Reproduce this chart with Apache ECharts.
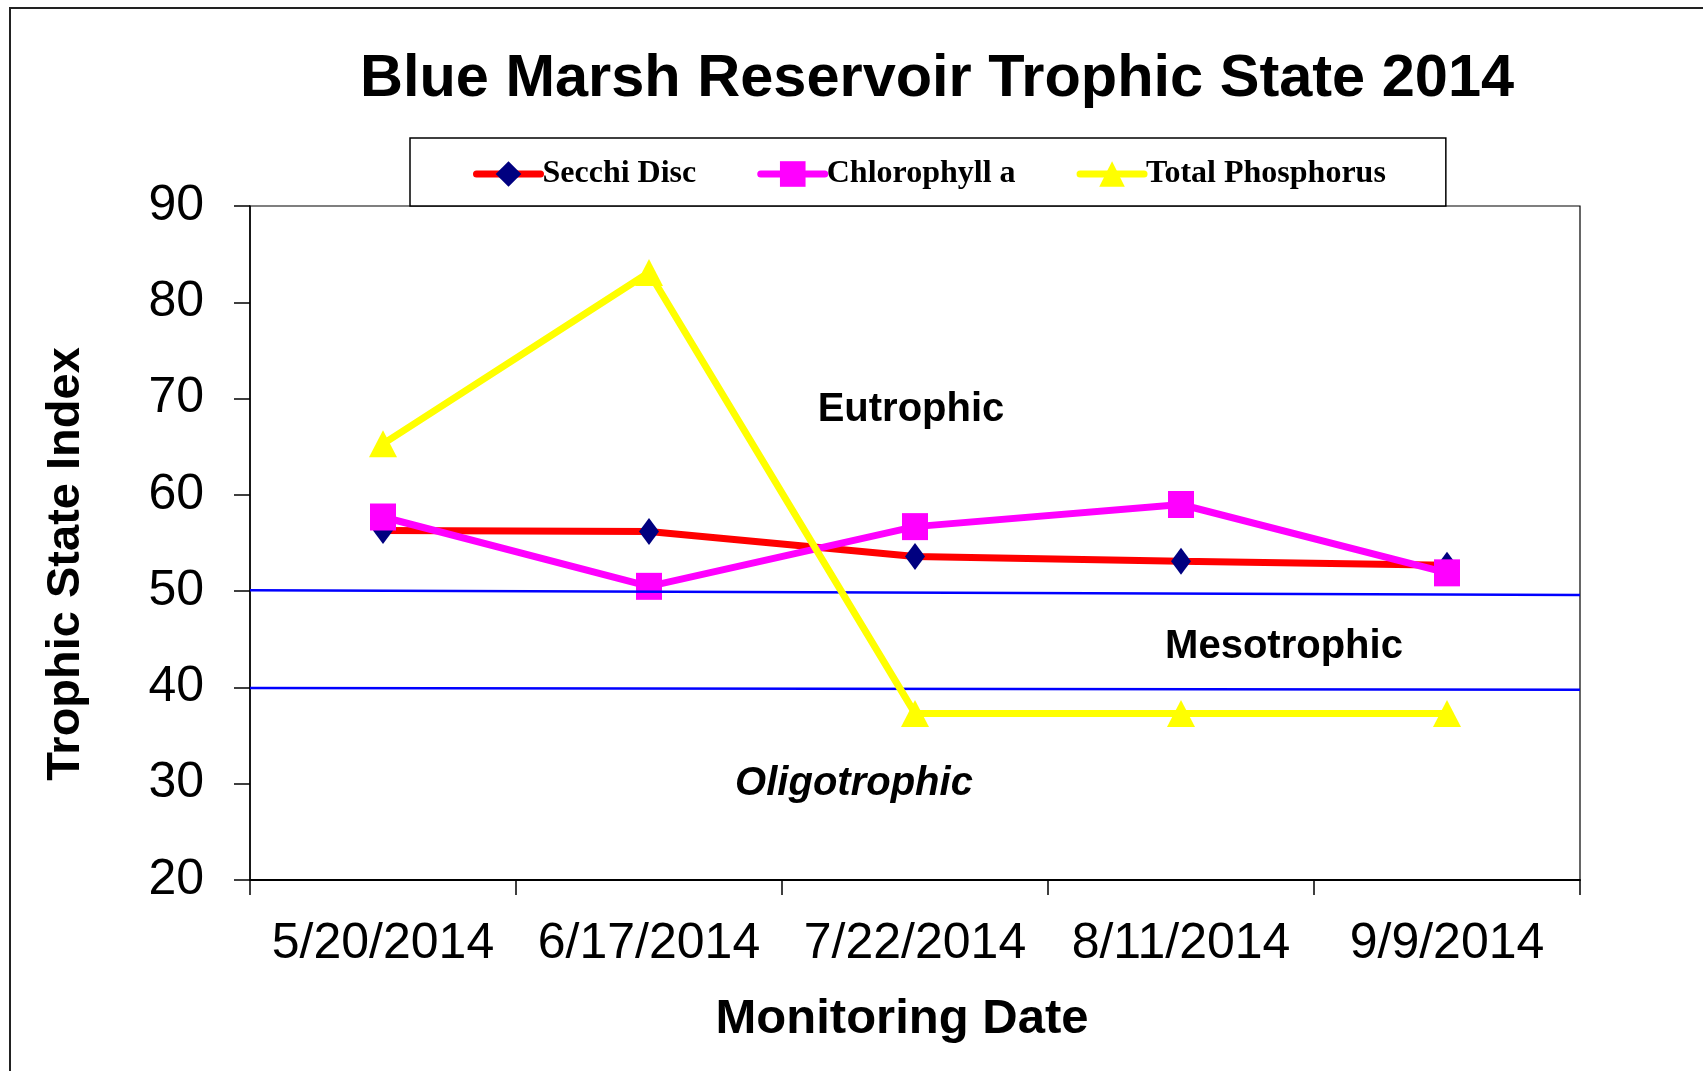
<!DOCTYPE html>
<html>
<head>
<meta charset="utf-8">
<script src="https://cdn.jsdelivr.net/npm/echarts@6/dist/echarts.min.js"></script>
<style>
  html, body { margin: 0; padding: 0; background: #fff; }
  #chart { width: 1703px; height: 1071px; }
</style>
</head>
<body>
<div id="chart"></div>
<script>
// ---- data ----
var dates = ['5/20/2014', '6/17/2014', '7/22/2014', '8/11/2014', '9/9/2014'];
var secchiDisc = [56.3, 56.2, 53.6, 53.1, 52.7];
var chlorophyllA = [57.7, 50.5, 56.7, 59.0, 51.9];
var totalPhosphorus = [65.3, 83.1, 37.3, 37.3, 37.3];
// trophic boundary lines (value at left edge, value at right edge)
var eutrophicBoundary = [50.1, 49.6];
var oligotrophicBoundary = [39.95, 39.75];
var yTicks = [20, 30, 40, 50, 60, 70, 80, 90];
var zoneLabels = ['Eutrophic', 'Mesotrophic', 'Oligotrophic'];

var chart = echarts.init(document.getElementById('chart'), null, { renderer: 'canvas' });

var sans = 'Liberation Sans, Arial, sans-serif';
var serif = 'Liberation Serif, Times New Roman, serif';

var option = {
  backgroundColor: '#ffffff',
  animation: false,
  title: {
    text: 'Blue Marsh Reservoir Trophic State 2014',
    left: 360,
    top: 50,
    padding: 0,
    textStyle: { fontFamily: sans, fontWeight: 'bold', fontSize: 59.5, color: '#000' }
  },
  legend: {
    data: ['Secchi Disc', 'Chlorophyll a', 'Total Phosphorus'],
    left: 410,
    top: 138,
    orient: 'horizontal',
    padding: [20, 60, 16, 63],
    itemGap: 61,
    itemWidth: 64,
    itemHeight: 32,
    borderColor: '#000',
    borderWidth: 1.5,
    backgroundColor: '#fff',
    textStyle: { fontFamily: serif, fontWeight: 'bold', fontSize: 32, color: '#000', padding: [0, 0, 0, -3] },
    lineStyle: { cap: 'round', width: 7 }
  },
  grid: {
    left: 250, right: 123, top: 206, bottom: 191,
    show: true, borderColor: '#000', borderWidth: 1.2, backgroundColor: 'transparent'
  },
  xAxis: [{
    type: 'category',
    data: dates,
    boundaryGap: true,
    name: 'Monitoring Date',
    nameLocation: 'middle',
    nameGap: 115,
    nameTextStyle: { fontFamily: sans, fontWeight: 'bold', fontSize: 49, color: '#000', padding: [0, 26, 0, 0] },
    axisLine: { lineStyle: { color: '#000', width: 2 } },
    axisTick: { show: true, interval: 0, length: 15, lineStyle: { color: '#000', width: 1.5 } },
    axisLabel: { interval: 0, fontFamily: sans, fontSize: 50, color: '#000', margin: 39 },
    splitLine: { show: false }
  }, {
    type: 'value',
    min: 0, max: 1,
    show: false
  }],
  yAxis: {
    type: 'value',
    min: yTicks[0],
    max: yTicks[yTicks.length - 1],
    interval: 10,
    name: 'Trophic State Index',
    nameLocation: 'middle',
    nameGap: 160,
    nameTextStyle: { fontFamily: sans, fontWeight: 'bold', fontSize: 47, color: '#000', padding: [0, 42, 0, 0] },
    axisLine: { show: true, lineStyle: { color: '#000', width: 1.5 } },
    axisTick: { show: true, length: 16, lineStyle: { color: '#000', width: 1.5 } },
    axisLabel: { fontFamily: sans, fontSize: 50, color: '#000', margin: 46, padding: [12, 0, 0, 0] },
    splitLine: { show: false }
  },
  series: [
    {
      name: 'Secchi Disc',
      type: 'line',
      data: secchiDisc,
      symbol: 'diamond',
      symbolSize: [20, 27],
      itemStyle: { color: '#000080' },
      lineStyle: { color: '#ff0000', width: 7 },
      z: 2
    },
    {
      name: 'Chlorophyll a',
      type: 'line',
      data: chlorophyllA,
      symbol: 'rect',
      symbolSize: [26, 27],
      itemStyle: { color: '#ff00ff' },
      lineStyle: { color: '#ff00ff', width: 7 },
      z: 3
    },
    {
      name: 'Eutrophic boundary',
      type: 'line',
      xAxisIndex: 1,
      data: [[0, eutrophicBoundary[0]], [1, eutrophicBoundary[1]]],
      symbol: 'none',
      lineStyle: { color: '#0000ff', width: 2.5 },
      silent: true,
      z: 4
    },
    {
      name: 'Oligotrophic boundary',
      type: 'line',
      xAxisIndex: 1,
      data: [[0, oligotrophicBoundary[0]], [1, oligotrophicBoundary[1]]],
      symbol: 'none',
      lineStyle: { color: '#0000ff', width: 2.5 },
      silent: true,
      z: 4
    },
    {
      name: 'Total Phosphorus',
      type: 'line',
      data: totalPhosphorus,
      symbol: 'triangle',
      symbolSize: [28, 27],
      itemStyle: { color: '#ffff00' },
      lineStyle: { color: '#ffff00', width: 7 },
      z: 5
    }
  ],
  graphic: [
    {
      type: 'rect',
      shape: { x: 10, y: 8, width: 1760, height: 1120 },
      style: { fill: 'none', stroke: '#222', lineWidth: 2 },
      silent: true, z: 100
    },
    {
      type: 'text', x: 911, y: 410,
      style: { text: zoneLabels[0], fontFamily: sans, fontWeight: 'bold', fontSize: 40, fill: '#000', textAlign: 'center', textVerticalAlign: 'middle' },
      z: 100
    },
    {
      type: 'text', x: 1284, y: 647,
      style: { text: zoneLabels[1], fontFamily: sans, fontWeight: 'bold', fontSize: 40, fill: '#000', textAlign: 'center', textVerticalAlign: 'middle' },
      z: 100
    },
    {
      type: 'text', x: 854, y: 784,
      style: { text: zoneLabels[2], fontFamily: sans, fontWeight: 'bold', fontStyle: 'italic', fontSize: 40, fill: '#000', textAlign: 'center', textVerticalAlign: 'middle' },
      z: 100
    }
  ]
};

chart.setOption(option);
</script>
</body>
</html>
